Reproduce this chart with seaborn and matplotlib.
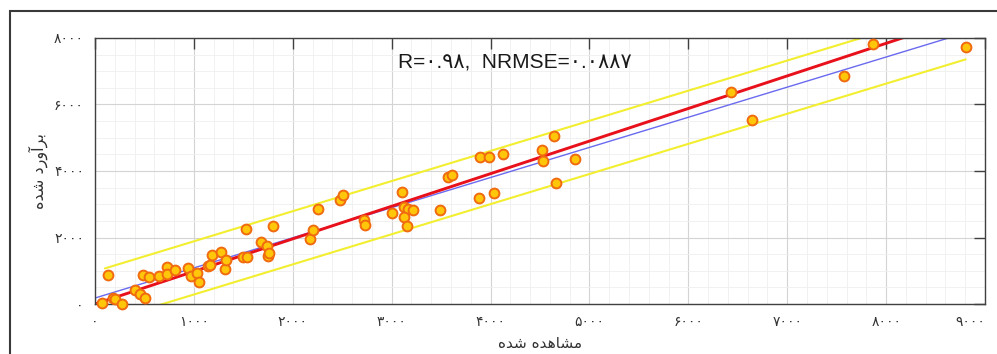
import numpy as np
import matplotlib
matplotlib.use("Agg")
import matplotlib.pyplot as plt
from matplotlib.patches import Rectangle
from matplotlib.ticker import MultipleLocator
import seaborn as sns

# observed (x) vs estimated (y)
observed = [70, 135, 185, 200, 270, 404, 455, 505, 490, 550, 650, 725, 725, 809,
            940, 971, 1030, 1050, 1140, 1165, 1185, 1275, 1314, 1325, 1493, 1534,
            1527, 1680, 1735, 1753, 1763, 1795, 2174, 2200, 2255, 2477, 2511, 2718,
            2733, 3000, 3104, 3124, 3160, 3215, 3120, 3151, 3488, 3573, 3607, 3886,
            3893, 3984, 4034, 4122, 4523, 4526, 4641, 4661, 4853, 6427, 6640, 7573,
            7863, 8804]
estimated = [20, 870, 170, 140, 0, 420, 300, 170, 870, 820, 850, 1110, 890, 1030,
             1070, 842, 920, 670, 1130, 1180, 1480, 1554, 1043, 1323, 1400, 1420,
             2246, 1875, 1744, 1444, 1544, 2336, 1970, 2226, 2850, 3128, 3278, 2526,
             2376, 2727, 3378, 2908, 2870, 2827, 2616, 2360, 2827, 3829, 3880, 3178,
             4431, 4431, 3348, 4501, 4632, 4310, 5053, 3648, 4351, 6386, 5534, 6857,
             7820, 7739]

# reference lines
red_slope, red_icpt = 0.98, 0.0
fit_slope, fit_icpt = 0.906, 180.0
band = 800.0

x_ticks = [0, 1000, 2000, 3000, 4000, 5000, 6000, 7000, 8000, 9000]
y_ticks = [0, 2000, 4000, 6000, 8000]

fa = str.maketrans("0123456789", "۰۱۲۳۴۵۶۷۸۹")

def fa_num(v):
    return str(v).translate(fa)

# Persian labels written as visual-order presentation forms
xlabel = "\ufee9\ufeaa\ufeb7 \ufee9\ufeaa\ufeeb\ufe8e\ufeb8\ufee3"   # مشاهده شده
ylabel = "\ufee9\ufeaa\ufeb7 \ufea9\ufead\ufeed\ufe81\ufeae\ufe91"   # برآورد شده
note = "R=" + "۰.۹۸" + ",  NRMSE=" + "۰.۰۸۸۷"

sns.set_theme(style="white")
plt.rcParams["font.family"] = ["DejaVu Sans"]

fig = plt.figure(figsize=(9.97, 3.54), dpi=100)
ax = fig.add_axes([0.0953, 0.1412, 0.8927, 0.7515])

# outer frame
fig.patches.append(Rectangle((0.010, -0.2), 1.2, 1.168, transform=fig.transFigure,
                             fill=False, edgecolor="#3a3a3a", linewidth=1.5))

xs = np.array([0, 9000])
sns.lineplot(x=xs, y=fit_slope * xs + fit_icpt, color="#6a6af0", linewidth=1.0, ax=ax)
xb = np.array([min(observed) + 30, max(observed)])
sns.lineplot(x=xb, y=fit_slope * xb + fit_icpt + band, color="#f2ee30", linewidth=1.5, ax=ax)
sns.lineplot(x=xb, y=fit_slope * xb + fit_icpt - band, color="#f2ee30", linewidth=1.5, ax=ax)
sns.lineplot(x=xs, y=red_slope * xs + red_icpt, color="#e8101a", linewidth=2.1, ax=ax)

sns.scatterplot(x=observed, y=estimated, s=50, color="#ffc60a", edgecolor="#f06a10",
                linewidth=1.4, zorder=5, ax=ax, clip_on=False)

ax.set_xlim(0, 9000)
ax.set_ylim(0, 8000)
ax.set_xticks(x_ticks)
ax.set_xticklabels([fa_num(v) for v in x_ticks])
ax.set_yticks(y_ticks)
ax.set_yticklabels([fa_num(v) for v in y_ticks])
ax.xaxis.set_minor_locator(MultipleLocator(200))
ax.yaxis.set_minor_locator(MultipleLocator(500))
ax.grid(which="major", color="#d4d4d4", linewidth=0.8)
ax.grid(which="minor", color="#efefef", linewidth=0.6)
ax.set_axisbelow(True)
ax.tick_params(which="major", direction="in", length=8, width=1, color="#404040",
               top=True, right=True, labelsize=10, labelcolor="#333333", pad=8)
ax.tick_params(which="minor", length=0)
for sp in ax.spines.values():
    sp.set_color("#404040")
    sp.set_linewidth(1.0)
# last x label sits at the right edge, keep it inside the picture
ax.get_xticklabels()[-1].set_horizontalalignment("right")
ax.get_xticklabels()[-1].set_x(9000)

ax.set_xlabel(xlabel, fontsize=11, color="#333333", labelpad=5)
ax.set_ylabel(ylabel, fontsize=11.5, color="#333333", labelpad=4)

ax.text(0.472, 0.91, note, transform=ax.transAxes, ha="center", va="center",
        fontsize=15, color="#1a1a1a", family=["Liberation Sans", "DejaVu Sans"], zorder=6)

fig.savefig("out.png", dpi=100)
